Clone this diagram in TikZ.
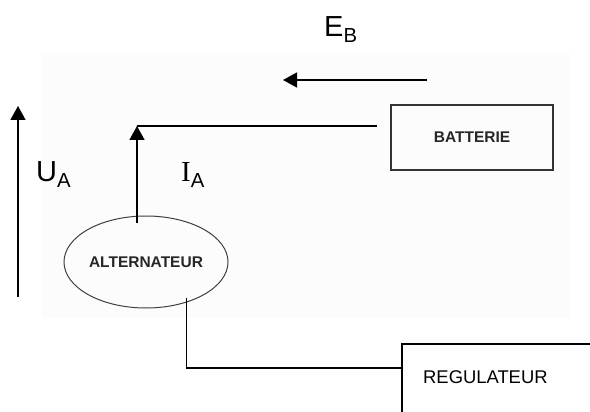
\documentclass[tikz,border=0pt]{standalone}
\usepackage{fontspec}
\setmainfont{Liberation Sans}
\newfontfamily\timesfont{Liberation Serif}
\usetikzlibrary{shapes.geometric,arrows.meta,calc}

\begin{document}
\begin{tikzpicture}[x=1pt, y=-1pt,
    wire/.style={line width=1.6pt},
    fleche/.style={wire, -{Triangle[length=14pt,width=15pt]}},
    grand/.style={font=\fontsize{29}{29}\selectfont, inner sep=0pt, anchor=base west},
    petit/.style={font=\bfseries\fontsize{15.5}{16}\selectfont, text=black!85}]
        % \draw[help lines, gray!50, very thin] (0,0) grid[step=50] (590,412);
        \useasboundingbox (0,0) rectangle (590,412);
        \fill[black!1] (42,53) rectangle (570,318);

        % blocs
        \node[petit, draw=black!80, line width=1.5pt, minimum width=162pt, minimum height=65pt] (bat) at (472,137.5) {BATTERIE\hspace{10pt}};
        \node[petit, ellipse, draw=black!75, line width=1pt, minimum width=164pt, minimum height=92pt] (alt) at (146,262) {\makebox[0pt]{ALTERNATEUR}};
        \node[anchor=north west, inner xsep=21pt, inner ysep=26pt, text depth=60pt, font=\fontsize{18.4}{18}\selectfont] (reg) at (402,344) {REGULATEUR};
        % le cadre du regulateur sort de la page
        \draw[line width=1.5pt] (reg.north west) ++(188,0) -- (reg.north west) -- (reg.south west);

        % fils
        \coordinate (coin) at (137,126);
        \coordinate (regin) at ($(reg.north west)+(0,24)$);
        \draw[fleche, shorten <=-7pt] (alt.north -| coin) -- (coin);
        \draw[wire] (coin) -- ([xshift=-13pt]bat.west |- coin);
        \draw[wire, shorten <=-5pt] (alt.-45) |- (regin);

        % tensions
        \coordinate (ubas) at (18,297);
        \coordinate (uhaut) at (18,106);
        \draw[fleche] (ubas) -- (uhaut);
        \coordinate (edroite) at (427,80);
        \coordinate (egauche) at (283,80);
        \draw[fleche] (edroite) -- (egauche);

        \node[grand] (ua) at (36,182) {U\textsubscript{A}};
        \node[grand] (ia) at (181,182) {{\timesfont I}\textsubscript{A}};
        \node[grand] (eb) at (324,37) {E\textsubscript{B}};
      \end{tikzpicture}
\end{document}
